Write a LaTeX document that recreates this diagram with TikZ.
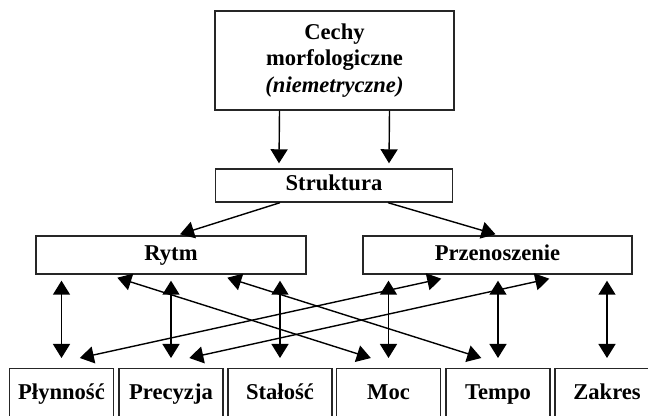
\documentclass[tikz,border=0pt]{standalone}
\usepackage{fontspec}
\setmainfont{Liberation Serif}
\usetikzlibrary{arrows.meta,calc}

\begin{document}
\begin{tikzpicture}[x=0.5pt,y=-0.5pt,line width=0.7pt,
  font=\fontsize{11.3}{12.8}\selectfont\bfseries,
  box/.style={draw=black!85,rectangle,inner sep=0pt,align=center},
  line/.style={box,text height=8pt,text depth=2.5pt},
  cell/.style={line,minimum width=52pt,minimum height=25pt,anchor=north},
  arr/.style={-{Triangle[length=7pt,width=8.5pt]}},
  dbl/.style={{Triangle[length=7pt,width=8.5pt]}-{Triangle[length=7pt,width=8.5pt]}}]
\path[use as bounding box,fill=white] (0,0) rectangle (648,416);
\node[box,minimum width=119.5pt,minimum height=49.5pt,
  font=\fontsize{11.3}{13.2}\selectfont\bfseries] (cechy) at (334.5,60.5)
  {Cechy\\morfologiczne\\\textit{(niemetryczne)}};
\node[line,minimum width=118.5pt,minimum height=16.5pt] (struktura) at (334,185.5) {Struktura};
\node[line,minimum width=135pt,minimum height=19pt] (rytm) at (171,255) {Rytm};
\node[line,minimum width=134.5pt,minimum height=19pt] (przen) at (497.5,255) {Przenoszenie};
\node[cell] (plyn) at (61.5,368) {Płynność};
\node[cell] (prec) at (171,368) {Precyzja};
\node[cell] (stal) at (280,368) {Stałość};
\node[cell] (moc) at (388.5,368) {Moc};
\node[cell] (tempo) at (498,368) {Tempo};
\node[cell] (zakres) at (607,368) {Zakres};
\draw[arr] ($(cechy.south)+(-55,0)$) -- ($(struktura.north)+(-55,-5)$);
\draw[arr] ($(cechy.south)+(55,0)$) -- ($(struktura.north)+(55,-5)$);
\draw[arr] ($(struktura.south)+(-54,0)$) -- ($(rytm.north)+(9,-1)$);
\draw[arr] ($(struktura.south)+(54,0)$) -- ($(przen.north)+(-2,-1)$);
\draw[dbl] ($(rytm.south -| plyn.north)+(0,6)$) -- ($(plyn.north)+(0,-10)$);
\draw[dbl] ($(rytm.south -| prec.north)+(0,6)$) -- ($(prec.north)+(0,-10)$);
\draw[dbl] ($(rytm.south -| stal.north)+(0,6)$) -- ($(stal.north)+(0,-10)$);
\draw[dbl] ($(przen.south -| moc.north)+(0,6)$) -- ($(moc.north)+(0,-10)$);
\draw[dbl] ($(przen.south -| tempo.north)+(0,6)$) -- ($(tempo.north)+(0,-10)$);
\draw[dbl] ($(przen.south -| zakres.north)+(0,6)$) -- ($(zakres.north)+(0,-10)$);
\draw[dbl] ($(rytm.south west)+(82,3)$) -- ($(moc.north west)+(35,-10)$);
\draw[dbl] ($(rytm.south west)+(192,3)$) -- ($(tempo.north west)+(36,-10)$);
\draw[dbl] ($(przen.south west)+(79,4)$) -- ($(plyn.north west)+(71,-10)$);
\draw[dbl] ($(przen.south west)+(187,4)$) -- ($(prec.north west)+(71,-10)$);
\end{tikzpicture}
\end{document}
